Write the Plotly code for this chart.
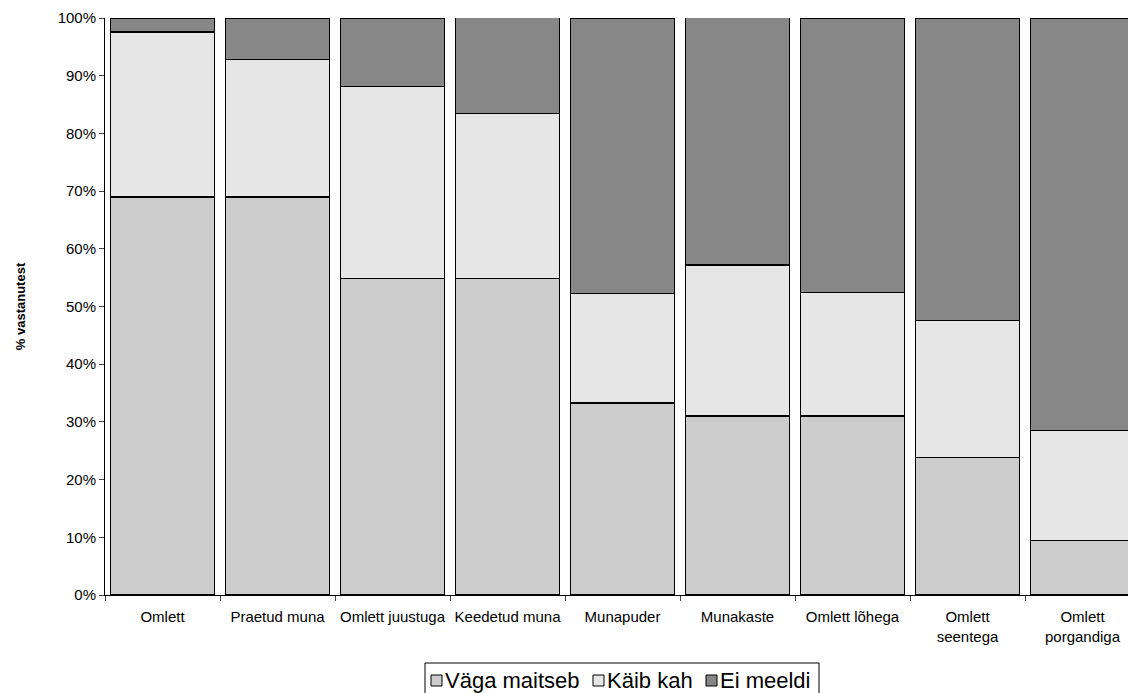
import plotly.graph_objects as go

categories = ["Omlett", "Praetud muna", "Omlett juustuga", "Keedetud muna", "Munapuder",
              "Munakaste", "Omlett lõhega", "Omlett<br>seentega", "Omlett<br>porgandiga"]
vaga_maitseb = [69.0, 69.0, 54.8, 54.8, 33.3, 31.0, 31.0, 23.8, 9.5]
kaib_kah = [28.6, 23.8, 33.3, 28.6, 19.0, 26.2, 21.4, 23.8, 19.0]
ei_meeldi = [2.4, 7.1, 11.9, 16.7, 47.6, 42.9, 47.6, 52.4, 71.4]

series = [("Väga maitseb", vaga_maitseb, "#cccccc"),
          ("Käib kah", kaib_kah, "#e6e6e6"),
          ("Ei meeldi", ei_meeldi, "#878787")]

fig = go.Figure()
for name, vals, col in series:
    fig.add_trace(go.Bar(x=categories, y=vals, name=name, showlegend=False,
                         marker=dict(color=col, line=dict(color="black", width=1.3))))

# page body adds an 8px offset; plot area spans page x 105..1136, y 18..595
W, H = 1128, 685
L, T, B = 97, 10, 98
PW, PH = W - L, H - T - B


def px(x):
    return (x - 8 - L) / PW


def py(y):
    return (H - B - (y - 8)) / PH


# hand-drawn legend, Excel style (small squares right next to text)
shapes = [dict(type="rect", xref="paper", yref="paper", x0=px(425), x1=px(819),
               y0=py(705), y1=py(663), line=dict(color="black", width=1),
               fillcolor="white", layer="above")]
annotations = []
items = [(431, 443), (593, 605), (706, 718)]
for (sx, tx), (name, _, col) in zip(items, series):
    shapes.append(dict(type="rect", xref="paper", yref="paper", x0=px(sx), x1=px(sx + 11),
                       y0=py(686), y1=py(675), line=dict(color="black", width=1),
                       fillcolor=col, layer="above"))
    annotations.append(dict(text=name, xref="paper", yref="paper", x=px(tx), y=py(680),
                            xanchor="left", yanchor="middle", showarrow=False,
                            font=dict(size=22)))

fig.update_layout(
    barmode="stack",
    bargap=0.096,
    width=W, height=H,
    margin=dict(l=L, r=0, t=T, b=B, autoexpand=False),
    plot_bgcolor="white", paper_bgcolor="white",
    font=dict(family="Liberation Sans, Arial, sans-serif", size=15, color="black"),
    shapes=shapes,
    annotations=annotations,
    yaxis=dict(range=[0, 100], dtick=10, ticksuffix="%", showgrid=False,
               showline=True, linecolor="black", ticks="outside", ticklen=5,
               title=dict(text="<b>% vastanutest</b>", font=dict(size=13), standoff=29),
               zeroline=False),
    xaxis=dict(range=[-0.5, 8.465], showline=True, linecolor="black", ticks="outside",
               ticklen=5, tickson="boundaries", showgrid=False, tickangle=0,
               tickfont=dict(size=15), ticklabelstandoff=8),
)

fig.write_html("out.html")
